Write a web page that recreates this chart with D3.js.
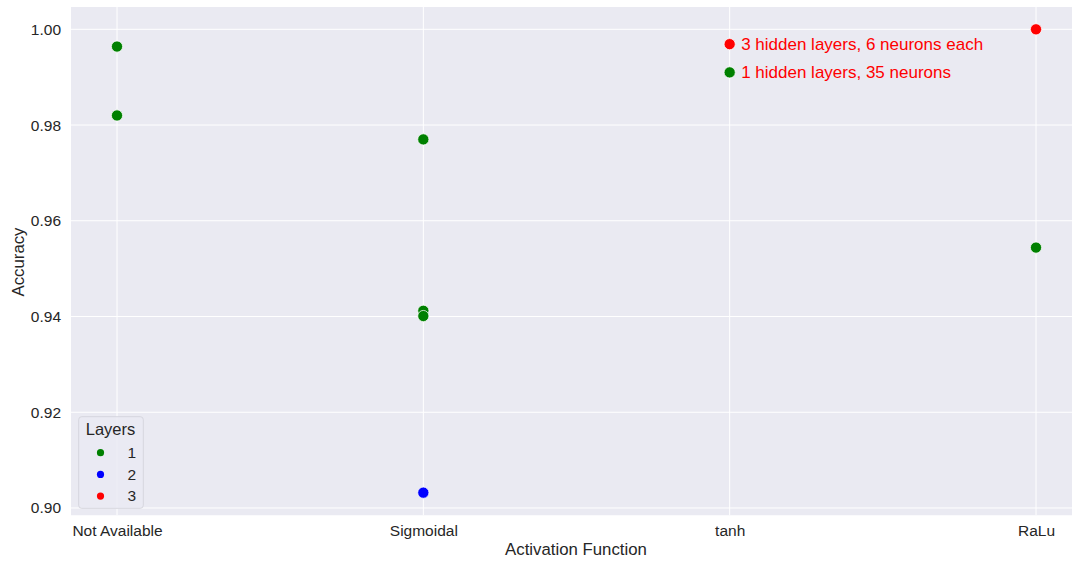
<!DOCTYPE html>
<html><head><meta charset="utf-8">
<script src="https://cdn.jsdelivr.net/npm/d3@7"></script>
<style>body{margin:0;background:#fff;}svg{display:block;font-family:"Liberation Sans",Arial,sans-serif;}</style>
</head><body><svg id="c" width="1072" height="561"></svg>
<script>
const categories = ["Not Available","Sigmoidal","tanh","RaLu"];
const pointCategory = ["Not Available","Not Available","Sigmoidal","Sigmoidal","Sigmoidal","Sigmoidal","RaLu","RaLu"];
const pointAccuracy = [0.9964,0.9820,0.9770,0.9412,0.9401,0.9032,1.0000,0.9544];
const pointLayers   = [1,1,1,1,1,2,3,1];
const yTicks = [0.90,0.92,0.94,0.96,0.98,1.00];
const layerLevels = [1,2,3];
const layerColors = ["#008000","#0000ff","#ff0000"];
const noteCategory = ["tanh","tanh"];
const noteAccuracy = [0.9969,0.9910];
const noteColors = ["#ff0000","#008000"];
const noteTexts = ["3 hidden layers, 6 neurons each","1 hidden layers, 35 neurons"];

const svg = d3.select("#c");
const L = 71, T = 7, R = 1082, B = 515.5;
const x = d3.scalePoint().domain(categories).range([117,1036]);
const y = d3.scaleLinear().domain([0.89843,1.00466]).range([B,T]);
const color = d3.scaleOrdinal().domain(layerLevels).range(layerColors);
const FONT = "'Liberation Sans',Arial,sans-serif";

svg.append("defs").append("clipPath").attr("id","clip").append("rect").attr("x",L).attr("y",T).attr("width",R-L).attr("height",B-T);
const plot = svg.append("g").attr("clip-path","url(#clip)");
plot.append("rect").attr("x",L).attr("y",T).attr("width",R-L).attr("height",B-T).attr("fill","#eaeaf2");
plot.selectAll(".gy").data(yTicks).join("line").attr("x1",L).attr("x2",R).attr("y1",d=>y(d)).attr("y2",d=>y(d)).attr("stroke","#fff").attr("stroke-width",1);
plot.selectAll(".gx").data(categories).join("line").attr("x1",d=>x(d)).attr("x2",d=>x(d)).attr("y1",T).attr("y2",B).attr("stroke","#fff").attr("stroke-width",1);

const idx = d3.range(pointAccuracy.length);
plot.selectAll(".pt").data(idx).join("circle")
  .attr("cx",i=>x(pointCategory[i])).attr("cy",i=>y(pointAccuracy[i])).attr("r",5.6)
  .attr("fill",i=>color(pointLayers[i])).attr("stroke","#fff").attr("stroke-width",0.75);

const nidx = d3.range(noteTexts.length);
plot.selectAll(".np").data(nidx).join("circle")
  .attr("cx",i=>x(noteCategory[i])).attr("cy",i=>y(noteAccuracy[i])).attr("r",5.6)
  .attr("fill",i=>noteColors[i]).attr("stroke","#fff").attr("stroke-width",0.75);
plot.selectAll(".nt").data(nidx).join("text")
  .attr("x",i=>x(noteCategory[i])+11.5).attr("y",i=>y(noteAccuracy[i])+6)
  .attr("fill","#ff0000").attr("font-size","17px").text(i=>noteTexts[i]);

// axes
const yAxis = svg.append("g").attr("transform",`translate(${L},0)`).call(d3.axisLeft(y).tickValues(yTicks).tickFormat(d3.format(".2f")).tickSize(0).tickPadding(10));
yAxis.select(".domain").remove();
yAxis.selectAll("text").attr("fill","#262626").attr("font-size","15.5px").attr("font-family",FONT);
const xAxis = svg.append("g").attr("transform",`translate(0,${B})`).call(d3.axisBottom(x).tickSize(0).tickPadding(9));
xAxis.select(".domain").remove();
xAxis.selectAll("text").attr("fill","#262626").attr("font-size","15.5px").attr("font-family",FONT);

svg.append("text").attr("x",576).attr("y",555).attr("text-anchor","middle").attr("fill","#262626").attr("font-size","16.8px").text("Activation Function");
svg.append("text").attr("transform","translate(24,262) rotate(-90)").attr("text-anchor","middle").attr("fill","#262626").attr("font-size","16.8px").text("Accuracy");

// legend
const lg = svg.append("g");
lg.append("rect").attr("x",78.7).attr("y",416.7).attr("width",64.6).attr("height",91.6).attr("rx",3)
  .attr("fill","#eaeaf2").attr("fill-opacity",0.8).attr("stroke","#d6d6de").attr("stroke-width",1);
lg.append("text").attr("x",110.5).attr("y",435).attr("text-anchor","middle").attr("fill","#262626").attr("font-size","16.5px").text("Layers");
lg.selectAll(".lm").data(layerLevels).join("circle").attr("cx",100.5).attr("cy",(d,i)=>452.7+i*21.7).attr("r",3.6).attr("fill",d=>color(d));
lg.selectAll(".lt").data(layerLevels).join("text").attr("x",136).attr("y",(d,i)=>458+i*21.7).attr("text-anchor","end").attr("fill","#262626").attr("font-size","15.5px").text(d=>d);
</script></body></html>
